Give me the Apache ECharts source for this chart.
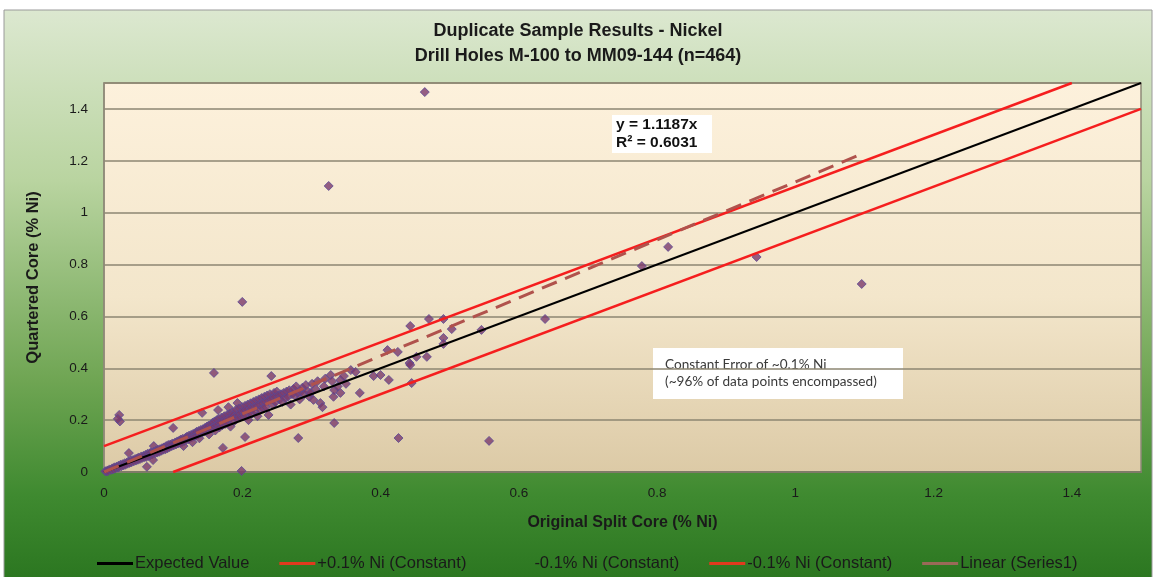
<!DOCTYPE html>
<html><head><meta charset="utf-8">
<script src="https://cdn.jsdelivr.net/npm/echarts@6/dist/echarts.min.js"></script>
<style>html,body{margin:0;padding:0;background:#fff}#c{width:1156px;height:577px}</style>
</head><body><div id="c"></div>
<script>
// ---- data ----
const xTicks = [0, 0.2, 0.4, 0.6, 0.8, 1, 1.2, 1.4];
const expectedLine = [[0, 0], [1.5, 1.5]];
const plusLine = [[0, 0.1], [1.4, 1.5]];
const minusLine = [[0.1, 0], [1.5, 1.4]];
const trendLine = [[0, 0], [1.095, 1.225]];
const legendLabels = ['Expected Value', '+0.1% Ni (Constant)', '-0.1% Ni (Constant)', '-0.1% Ni (Constant)', 'Linear (Series1)'];
const duplicates = [
[0.002,0.003],[0.004,0.002],[0.005,0.006],[0.006,0.004],[0.008,0.01],[0.01,0.008],[0.012,0.014],[0.013,0.01],[0.015,0.018],[0.016,0.013],
[0.018,0.02],[0.02,0.017],[0.021,0.024],[0.022,0.02],[0.024,0.028],[0.025,0.022],[0.027,0.03],[0.028,0.025],[0.03,0.034],[0.031,0.028],
[0.033,0.036],[0.034,0.032],[0.035,0.04],[0.036,0.073],[0.037,0.035],[0.039,0.044],[0.04,0.038],[0.042,0.046],[0.043,0.041],[0.045,0.05],
[0.046,0.044],[0.048,0.052],[0.049,0.047],[0.05,0.056],[0.022,0.22],[0.023,0.195],[0.02,0.205],
[0.052,0.05],[0.054,0.06],[0.055,0.054],[0.057,0.062],[0.058,0.057],[0.06,0.066],[0.061,0.058],[0.062,0.02],[0.063,0.07],[0.064,0.062],
[0.066,0.072],[0.067,0.065],[0.068,0.075],[0.07,0.068],[0.071,0.046],[0.072,0.1],[0.072,0.078],[0.074,0.072],[0.075,0.082],[0.077,0.075],
[0.078,0.086],[0.08,0.078],[0.081,0.088],[0.083,0.082],[0.084,0.092],[0.086,0.086],[0.087,0.095],[0.089,0.088],[0.09,0.1],[0.092,0.092],
[0.093,0.104],[0.095,0.096],[0.096,0.106],[0.098,0.1],[0.099,0.11],
[0.1,0.17],[0.101,0.103],[0.103,0.114],[0.104,0.106],[0.106,0.118],[0.107,0.11],[0.109,0.121],[0.11,0.112],[0.111,0.125],[0.113,0.116],
[0.114,0.128],[0.115,0.1],[0.116,0.12],[0.118,0.132],[0.119,0.124],[0.12,0.136],[0.122,0.126],[0.123,0.14],[0.124,0.13],[0.126,0.143],
[0.127,0.134],[0.128,0.115],[0.129,0.147],[0.13,0.138],[0.132,0.15],[0.133,0.14],[0.134,0.155],[0.136,0.145],[0.137,0.158],[0.138,0.13],
[0.139,0.148],[0.14,0.162],[0.142,0.152],[0.142,0.228],[0.143,0.165],[0.145,0.156],[0.146,0.17],[0.147,0.16],[0.149,0.175],[0.15,0.162],
[0.151,0.178],[0.152,0.145],[0.153,0.168],[0.155,0.182],[0.156,0.17],[0.157,0.19],[0.159,0.382],[0.159,0.175],[0.16,0.195],[0.161,0.16],
[0.162,0.18],[0.163,0.2],[0.165,0.239],[0.165,0.185],[0.166,0.205],[0.167,0.172],[0.168,0.19],[0.17,0.21],[0.171,0.18],[0.172,0.093],
[0.172,0.196],[0.174,0.215],[0.175,0.185],[0.176,0.2],[0.178,0.22],[0.179,0.19],[0.18,0.25],[0.18,0.205],[0.182,0.225],[0.183,0.175],
[0.184,0.21],[0.186,0.23],[0.187,0.22],[0.188,0.195],[0.19,0.215],[0.191,0.24],[0.192,0.205],[0.193,0.266],[0.194,0.22],[0.195,0.245],
[0.196,0.21],[0.198,0.228],[0.199,0.004],[0.2,0.25],[0.2,0.656],
[0.201,0.215],[0.202,0.235],[0.204,0.135],[0.204,0.255],[0.205,0.22],[0.207,0.24],[0.208,0.26],[0.209,0.2],[0.21,0.23],[0.212,0.265],
[0.213,0.245],[0.214,0.225],[0.216,0.27],[0.217,0.25],[0.218,0.235],[0.22,0.275],[0.221,0.255],[0.222,0.215],[0.224,0.28],[0.225,0.26],
[0.226,0.24],[0.228,0.285],[0.229,0.265],[0.23,0.245],[0.232,0.29],[0.233,0.27],[0.234,0.25],[0.236,0.295],[0.237,0.275],[0.238,0.22],
[0.24,0.3],[0.241,0.28],[0.242,0.37],[0.243,0.285],[0.244,0.26],[0.246,0.305],[0.247,0.29],[0.248,0.27],[0.25,0.31],
[0.252,0.295],[0.254,0.28],[0.256,0.3],[0.258,0.27],[0.26,0.305],[0.262,0.285],[0.264,0.31],[0.266,0.29],[0.268,0.315],[0.27,0.26],
[0.272,0.3],[0.274,0.32],[0.276,0.295],[0.278,0.33],[0.281,0.131],[0.28,0.305],[0.283,0.28],[0.285,0.31],[0.287,0.325],[0.29,0.3],
[0.292,0.335],[0.295,0.31],[0.297,0.29],[0.299,0.305],[0.301,0.34],[0.303,0.278],[0.306,0.32],[0.309,0.35],[0.313,0.266],[0.316,0.25],
[0.318,0.33],[0.32,0.36],[0.325,1.103],[0.328,0.374],[0.33,0.35],[0.332,0.29],[0.333,0.316],[0.333,0.189],[0.338,0.33],[0.342,0.355],
[0.342,0.305],[0.347,0.37],[0.35,0.34],
[0.357,0.393],[0.364,0.386],[0.37,0.305],[0.39,0.37],[0.4,0.374],[0.412,0.355],[0.41,0.47],[0.425,0.463],[0.426,0.131],[0.443,0.563],
[0.442,0.42],[0.443,0.413],[0.445,0.343],[0.452,0.444],[0.464,1.465],[0.467,0.444],[0.47,0.59],[0.491,0.59],[0.503,0.551],[0.491,0.517],
[0.491,0.494],[0.546,0.548],[0.557,0.12],[0.638,0.59],[0.778,0.794],[0.816,0.868],[0.944,0.829],[1.096,0.725]
];

const chart = echarts.init(document.getElementById('c'), null, {renderer: 'canvas'});
const font = 'Arial, "Liberation Sans", sans-serif';
const option = {
  backgroundColor: '#ffffff',
  animation: false,
  graphic: [
    {type: 'rect', z: -10, silent: true, shape: {x: 4, y: 10, width: 1148, height: 570},
     style: {fill: new echarts.graphic.LinearGradient(0, 0, 0, 1, [
       {offset: 0, color: '#dce8d0'}, {offset: 0.3, color: '#b9d4a0'},
       {offset: 0.65, color: '#6fa553'}, {offset: 0.85, color: '#3f8a30'}, {offset: 1, color: '#2b7620'}]),
       stroke: '#9a9a9a', lineWidth: 1}},
    {type: 'group', z: 100, children: [
      {type: 'rect', shape: {x: 612, y: 115, width: 100, height: 38}, style: {fill: '#ffffff'}},
      {type: 'text', style: {x: 616, y: 116, text: 'y = 1.1187x\nR\u00b2 = 0.6031', font: 'bold 15.5px ' + font, fill: '#111', lineHeight: 18}}
    ]},
    {type: 'group', z: 100, children: [
      {type: 'rect', shape: {x: 653, y: 348, width: 250, height: 51}, style: {fill: '#ffffff'}},
      {type: 'text', style: {x: 665, y: 356, text: 'Constant Error of ~0.1% Ni\n(~96% of data points encompassed)', font: '13.6px Lato, "Open Sans", sans-serif', fill: '#3a3a3a', lineHeight: 17}}
    ]}
  ],
  title: {
    text: 'Duplicate Sample Results - Nickel\nDrill Holes M-100 to MM09-144 (n=464)',
    left: 'center', top: 14,
    textStyle: {fontFamily: font, fontSize: 18, fontWeight: 'bold', color: '#1a1a1a', lineHeight: 25}
  },
  legend: {
    top: 550, left: 92, itemGap: 30, itemWidth: 36, itemHeight: 3, icon: 'rect',
    data: [
      {name: 'exp'}, {name: 'plus'}, {name: 'minusHidden', icon: 'none'}, {name: 'minus'}, {name: 'trend'}
    ],
    formatter: function (n) { return {exp: legendLabels[0], plus: legendLabels[1], minusHidden: legendLabels[2], minus: legendLabels[3], trend: legendLabels[4]}[n]; },
    textStyle: {fontFamily: font, fontSize: 16.5, color: '#1a1a1a', padding: [0, 0, 0, -3]}
  },
  grid: {
    left: 104, right: 15, top: 83, bottom: 105, show: true,
    backgroundColor: new echarts.graphic.LinearGradient(0, 0, 0, 1, [
      {offset: 0, color: '#fdf1dc'}, {offset: 0.55, color: '#f3e6cb'}, {offset: 1, color: '#dccaa6'}]),
    borderColor: '#8f8a78', borderWidth: 1.5
  },
  xAxis: {
    type: 'value', min: 0, max: 1.5, interval: 0.2,
    name: 'Original Split Core (% Ni)', nameLocation: 'middle', nameGap: 43,
    nameTextStyle: {fontFamily: font, fontSize: 16, fontWeight: 'bold', color: '#1a1a1a'},
    axisLine: {show: true, lineStyle: {color: '#7f7b68', width: 2}},
    axisTick: {show: false},
    splitLine: {show: false},
    axisLabel: {fontFamily: font, fontSize: 13.5, color: '#1a1a1a', margin: 14, showMaxLabel: false,
      formatter: v => (xTicks.some(t => Math.abs(t - v) < 1e-9) ? String(+v.toFixed(1)) : '')}
  },
  yAxis: {
    type: 'value', min: 0, max: 1.5, interval: 0.2,
    name: 'Quartered Core (% Ni)', nameLocation: 'middle', nameGap: 62,
    nameTextStyle: {fontFamily: font, fontSize: 16.5, fontWeight: 'bold', color: '#1a1a1a'},
    axisLine: {show: true, lineStyle: {color: '#8f8a78', width: 1.5}},
    axisTick: {show: false},
    splitLine: {show: true, lineStyle: {color: '#8c8672', width: 1.5}},
    axisLabel: {fontFamily: font, fontSize: 13.5, color: '#1a1a1a', margin: 16, showMaxLabel: false,
      formatter: v => String(+v.toFixed(1))}
  },
  series: [
    {name: 'Series1', type: 'scatter', data: duplicates, symbol: 'diamond', symbolSize: 9, z: 3,
     itemStyle: {color: '#7b3a6c', borderColor: '#5a4a96', borderWidth: 1}},
    {name: 'exp', type: 'line', data: expectedLine, showSymbol: false, symbol: 'none', z: 4,
     lineStyle: {color: '#000000', width: 2}, itemStyle: {color: '#000000'}},
    {name: 'plus', type: 'line', data: plusLine, symbol: 'none', z: 4,
     lineStyle: {color: '#f51e1e', width: 2.5}, itemStyle: {color: '#e03a1e'}},
    {name: 'minusHidden', type: 'line', data: [], symbol: 'none', lineStyle: {opacity: 0}, itemStyle: {color: 'transparent'}},
    {name: 'minus', type: 'line', data: minusLine, symbol: 'none', z: 4,
     lineStyle: {color: '#f51e1e', width: 2.5}, itemStyle: {color: '#e03a1e'}},
    {name: 'trend', type: 'line', data: trendLine, symbol: 'none', z: 5,
     lineStyle: {color: '#b0524c', width: 3, type: [16, 9]}, itemStyle: {color: '#9a6a58'}}
  ]
};
chart.setOption(option);
</script></body></html>
